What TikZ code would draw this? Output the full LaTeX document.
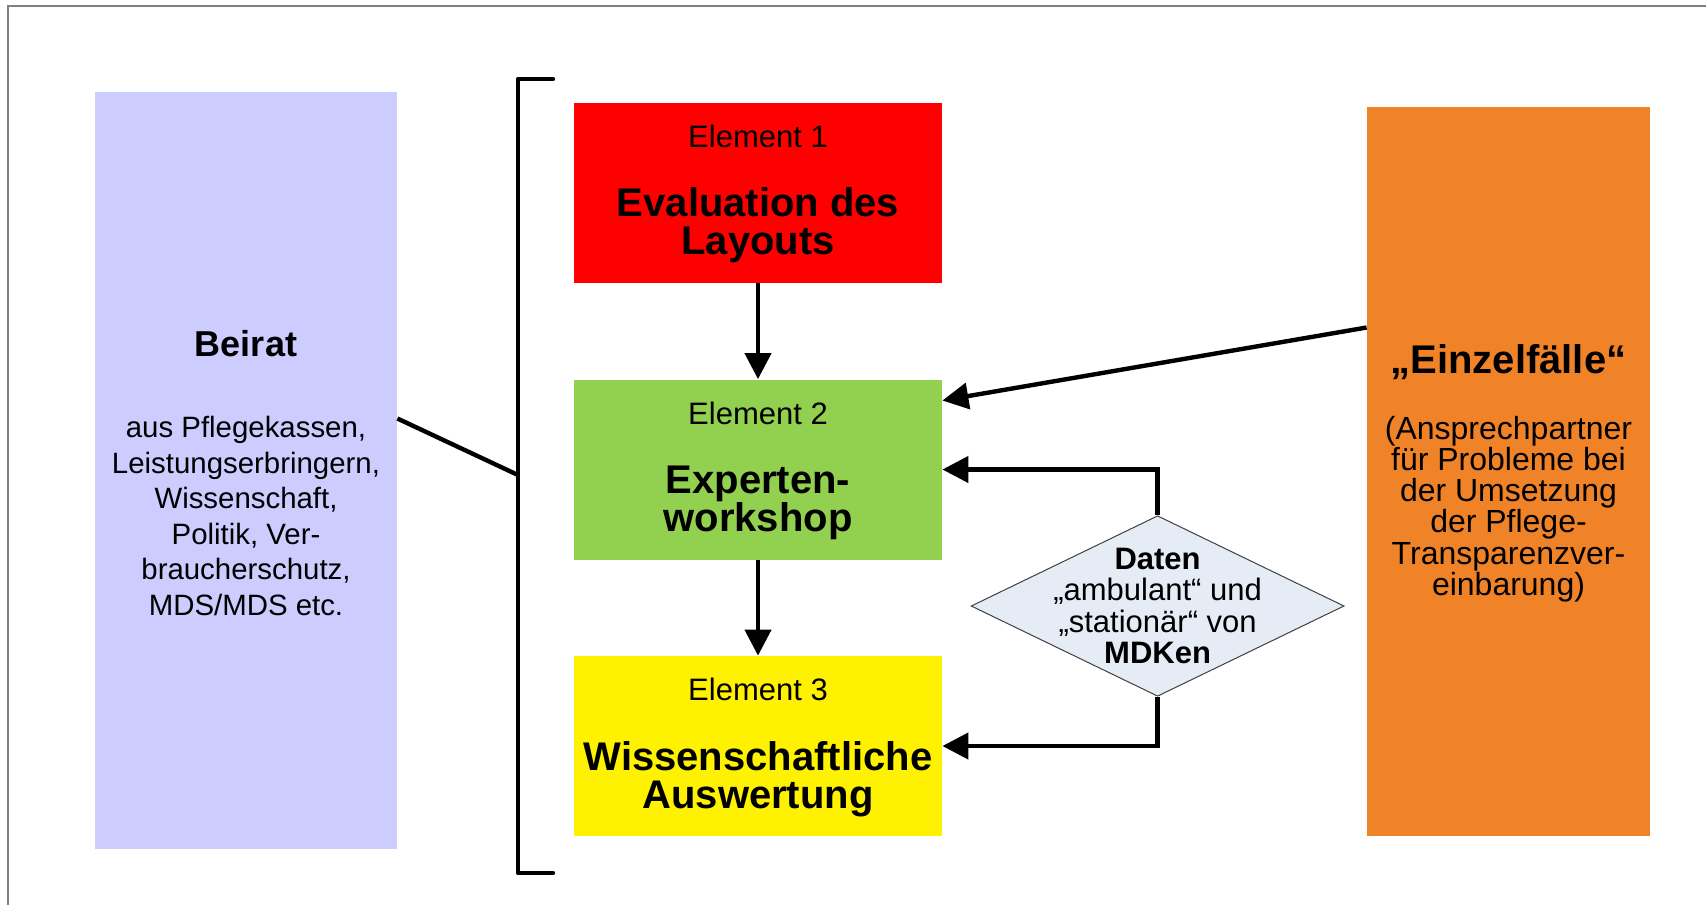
\documentclass[tikz,border=0pt]{standalone}
\usepackage{fontspec}
\setmainfont{Liberation Sans}
\usetikzlibrary{arrows.meta,shapes.geometric,positioning}
\definecolor{beiratblue}{RGB}{204,204,255}
\definecolor{elemgreen}{RGB}{146,208,80}
\definecolor{einzelorange}{RGB}{240,131,40}
\definecolor{datenblue}{RGB}{230,236,246}
\definecolor{framegray}{RGB}{128,128,128}
\tikzset{
  elem/.style={inner sep=0pt, minimum width=184pt, minimum height=90pt},
  elemlabel/.style={font=\fontsize{15.5}{15.5}\selectfont},
  elemtitle/.style={align=center, font=\fontsize{20}{19}\selectfont\bfseries},
  arr/.style={line width=2.2pt, -{Triangle[length=13pt,width=13pt]}},
  plain/.style={line width=2.2pt}
}
\begin{document}
\begin{tikzpicture}[x=0.5pt, y=-0.5pt]
  \useasboundingbox (0,0) rectangle (1706,905);
  \draw[framegray, line width=0.8pt] (8,905) -- (8,6) -- (1706,6);
  % side boxes
  \node[inner sep=0pt, minimum width=151pt, minimum height=378.5pt,
    fill=beiratblue] (beirat) at (246,470.5) {};
  \node[inner sep=0pt, minimum width=141.5pt, minimum height=364.5pt,
    fill=einzelorange] (einzel) at (1508.5,471.5) {};
  % elements
  \node[elem, fill=red] (e1) at (758,193) {};
  \node[elem, fill=elemgreen] (e2) at (758,469.5) {};
  \node[elem, fill=yellow] (e3) at (758,746) {};
  \node[elemlabel] (e1label) at ([yshift=-17pt]e1.north) {Element 1};
  \node[elemlabel] (e2label) at ([yshift=-17pt]e2.north) {Element 2};
  \node[elemlabel] (e3label) at ([yshift=-17pt]e3.north) {Element 3};
  \node[elemtitle] (e1title) at ([yshift=-16pt]e1.center) {Evaluation des\\Layouts};
  \node[elemtitle] (e2title) at ([yshift=-16.5pt]e2.center) {Experten-\\workshop};
  \node[elemtitle] (e3title) at ([yshift=-16.5pt]e3.center) {Wissenschaftliche\\Auswertung};
  % texts of the side boxes
  \node[font=\fontsize{18}{18}\selectfont\bfseries] (beirattitle) at (246,344) {Beirat};
  \node[align=center, font=\fontsize{14.7}{17.75}\selectfont] (beirattext) at (246,516)
    {aus Pflegekassen,\\Leistungserbringern,\\Wissenschaft,\\Politik, Ver-\\braucherschutz,\\MDS/MDS etc.};
  \node[font=\fontsize{20}{20}\selectfont\bfseries] (einzeltitle) at (1508.5,362) {„Einzelfälle“};
  \node[align=center, font=\fontsize{16}{15.65}\selectfont] (einzeltext) at (1508.5,509)
    {(Ansprechpartner\\für Probleme bei\\der Umsetzung\\der Pflege-\\Transparenzver-\\einbarung)};
  % data diamond
  \node[diamond, draw=black!75, line width=0.5pt, fill=datenblue, inner sep=0pt,
    minimum width=186.5pt, minimum height=90.3pt] (daten) at (1157.6,606) {};
  \node[align=center, font=\fontsize{15.5}{15.8}\selectfont] (datentext) at (daten.center)
    {\textbf{Daten}\\„ambulant“ und\\„stationär“ von\\\textbf{MDKen}};
  % bracket
  \coordinate (brtop) at (518,79);
  \coordinate (brbot) at (518,873);
  \coordinate (brmid) at (518,475);
  \draw[plain, line cap=round, line join=round]
    ([xshift=17.5pt]brtop) -- (brtop) -- (brbot) -- ([xshift=17.5pt]brbot);
  \draw[plain] ([yshift=26pt]beirat.east) -- (brmid);
  % connectors
  \draw[arr] (e1) -- (e2);
  \draw[arr] (e2) -- (e3);
  \draw[arr] ([yshift=72pt]einzel.west) -- ([yshift=34.5pt]e2.east);
  \draw[arr] (daten.north) |- (e2.east);
  \draw[arr] (daten.south) |- (e3.east);
\end{tikzpicture}
\end{document}
